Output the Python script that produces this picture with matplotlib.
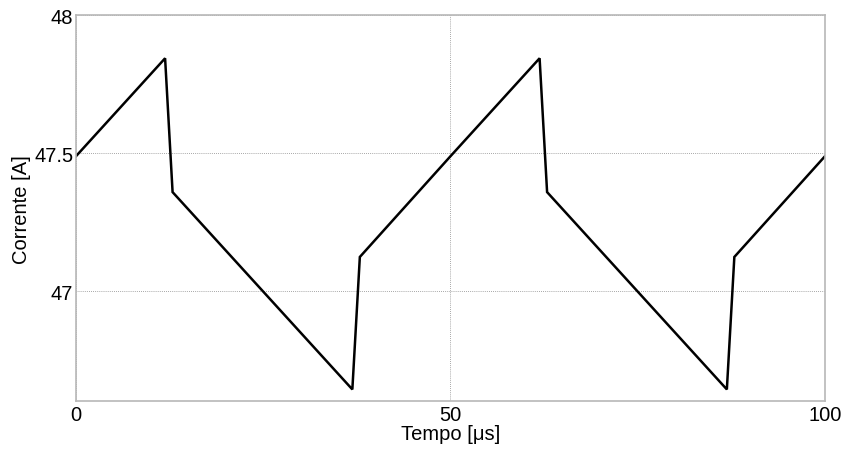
import matplotlib
matplotlib.use("Agg")
import matplotlib.pyplot as plt

# Inductor current waveform (two switching periods)
tempo_us = [0, 11.9, 12.9, 36.9, 37.9, 50, 61.9, 62.9, 86.9, 87.9, 100]
corrente_a = [47.49, 47.845, 47.36, 46.645, 47.125, 47.49, 47.845, 47.36, 46.645, 47.125, 47.49]

x_ticks = [0, 50, 100]
y_ticks = [47, 47.5, 48]
y_tick_labels = ["47", "47.5", "48"]

plt.rcParams["font.family"] = ["Liberation Sans", "DejaVu Sans"]

fig = plt.figure(figsize=(8.45, 4.52), dpi=100)
ax = fig.add_axes([0.0899, 0.1106, 0.8864, 0.8529])

ax.plot(tempo_us, corrente_a, color="black", linewidth=1.8, solid_joinstyle="miter")

ax.set_xlim(0, 100)
ax.set_ylim(46.603, 48)
ax.set_xticks(x_ticks)
ax.set_xticklabels([str(v) for v in x_ticks])
ax.set_yticks(y_ticks)
ax.set_yticklabels(y_tick_labels)

ax.grid(True, linestyle=(0, (1, 1.5)), color="#8a8a8a", linewidth=0.6)
ax.tick_params(axis="both", length=0, labelsize=14.5, colors="black")
ax.tick_params(axis="x", pad=3)
ax.tick_params(axis="y", pad=2)

for spine in ax.spines.values():
    spine.set_color("#b8b8b8")
    spine.set_linewidth(1.2)

ax.set_xlabel("Tempo [\u03bcs]", fontsize=14.5, labelpad=0)
ax.set_ylabel("Corrente [A]", fontsize=14.5, labelpad=2)

fig.savefig("out.png", dpi=100)
